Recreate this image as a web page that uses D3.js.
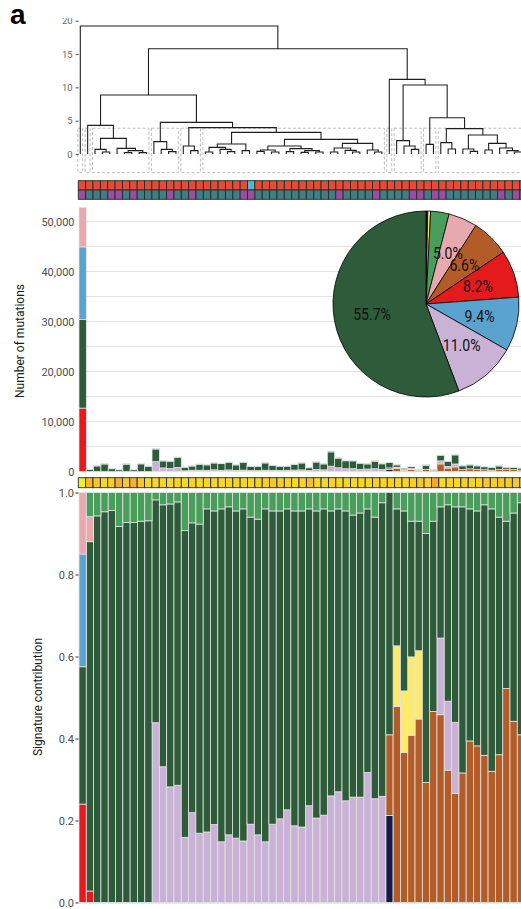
<!DOCTYPE html>
<html><head><meta charset="utf-8">
<script src="https://cdn.jsdelivr.net/npm/d3@7"></script>
<style>html,body{margin:0;padding:0;background:#fff;overflow:hidden;} svg{display:block;font-family:Roboto,"Noto Sans",sans-serif;}</style>
</head><body><svg id="c" width="521" height="909"></svg>
<script>
// ---------------- DATA ----------------
const N = 61;
const samples = d3.range(N).map(i => "T" + String(i + 1).padStart(2, "0"));

// dendrogram: [height, left, right], leaves are sample indices
const dendroTree =
 [19.2, 0,
  [15.8,
   [8.85,
    [4.3, 1, [2.35, [0.7, 2, [0.3, 3, 4]], [0.85, 5, [0.5, [0.2, 6, 7], [0.2, 8, 9]]]]],
    [4.75,
     [1.85, 10, [0.7, 11, [0.35, 12, 13]]],
     [3.95,
      [1.2, 14, [0.5, 15, 16]],
      [3.25,
       [1.5, [1.0, [0.3, 17, 18], [0.7, 19, [0.35, 20, 21]]], [0.5, 22, 23]],
       [2.2,
        [1.2, [0.6, [0.4, 24, 25], [0.3, 26, 27]], [0.8, [0.35, 28, 29], [0.5, [0.25, 30, 31], [0.3, 32, 33]]]],
        [1.6, [0.9, [0.3, 34, 35], [0.55, 36, [0.3, 37, 38]]], [0.6, 39, [0.3, 40, 41]]]]]]]],
   [11.2, 42,
    [10.35,
     [2.0, 43, [1.2, 44, [0.7, 45, 46]]],
     [5.45, [1.45, 47, 48],
      [3.8,
       [1.7, 49, [0.75, 50, 51]],
       [2.85, [0.75, 52, [0.4, 53, 54]],
        [1.6, [0.6, 55, 56], [0.9, 57, [0.5, 58, [0.3, 59, 60]]]]]]]]]]];
const dendroClusters = [[0,0],[1,1],[2,9],[10,13],[14,16],[17,41],[42,42],[43,46],[47,48],[49,60]];
const dendroCut = 3.87;
const dendroTicks = [0, 5, 10, 15, 20];

// annotation strips
const stripRow1 = "AAAAAAAAAAAAAAAAAAAAAAABAAAAAAAAAAAAAAAAAAAAAAAAAAAAAAAAAAAAA".split("");
const stripRow2 = "PTTTPPTPTTTTPTTPTTTTTTPPTTTTTTTTTTTPTTTTPTTTTPPTPPTTTTTTTPTPP".split("");
const stripValue = [
 0, .75, .6, .45, .55, .85, .6, .8, .6, .45,
 .45, .5, .45, .5, .45, .5, .45, .5, .5, .45,
 .5, .5, .45, .5, .5, .55, .6, .55, .5, .45,
 .5, .7, .45, .45, .5, .5, .5, .45, .5, .5,
 .55, .5, .55, .5, .5, .55, .6, .5, .9, .35,
 .5, .45, .55, .5, .5, .6, .55, .6, .55, .6,
 .55];

// total mutations per sample
const totals = [
 52840, 430, 1170, 1570, 570, 370, 1570, 370, 1630, 1100,
 4570, 2170, 2100, 2900, 900, 1170, 1500, 1370, 1770, 1630,
 1900, 1370, 1900, 1100, 1100, 1770, 1230, 1100, 1100, 1500,
 1770, 770, 1970, 1570, 4100, 2770, 2240, 2240, 1700, 1570,
 2170, 1570, 1770, 1370, 700, 1030, 430, 1370, 430, 3300,
 2100, 3430, 1170, 1370, 1170, 970, 830, 1170, 900, 830,
 700];

// signature contributions (fractions)
const sigRed = [
 .24, .028, 0, 0, 0, 0, 0, 0, 0, 0,
 0, 0, 0, 0, 0, 0, 0, 0, 0, 0,
 0, 0, 0, 0, 0, 0, 0, 0, 0, 0,
 0, 0, 0, 0, 0, 0, 0, 0, 0, 0,
 0, 0, 0, 0, 0, 0, 0, 0, 0, 0,
 0, 0, 0, 0, 0, 0, 0, 0, 0, 0,
 0];
const sigNavy = [
 0, 0, 0, 0, 0, 0, 0, 0, 0, 0,
 0, 0, 0, 0, 0, 0, 0, 0, 0, 0,
 0, 0, 0, 0, 0, 0, 0, 0, 0, 0,
 0, 0, 0, 0, 0, 0, 0, 0, 0, 0,
 0, 0, .212, 0, 0, 0, 0, 0, 0, 0,
 0, 0, 0, 0, 0, 0, 0, 0, 0, 0,
 0];
const sigBrown = [
 0, 0, 0, 0, 0, 0, 0, 0, 0, 0,
 0, 0, 0, 0, 0, 0, 0, 0, 0, 0,
 0, 0, 0, 0, 0, 0, 0, 0, 0, 0,
 0, 0, 0, 0, 0, 0, 0, 0, 0, 0,
 0, 0, .197, .478, .366, .408, .4475, .293, .466, .458,
 .323, .266, .316, .394, .382, .359, .320, .3605, .522, .442,
 .409];
const sigYellow = [
 0, 0, 0, 0, 0, 0, 0, 0, 0, 0,
 0, 0, 0, 0, 0, 0, 0, 0, 0, 0,
 0, 0, 0, 0, 0, 0, 0, 0, 0, 0,
 0, 0, 0, 0, 0, 0, 0, 0, 0, 0,
 0, 0, 0, .148, .150, .191, .1665, 0, 0, 0,
 0, 0, 0, 0, 0, 0, 0, 0, 0, 0,
 0];
const sigLilac = [
 0, 0, 0, 0, 0, 0, 0, 0, 0, 0,
 .4385, .331, .282, .286, .159, .219, .169, .172, .190, .148,
 .165, .157, .150, .191, .165, .148, .191, .204, .226, .187,
 .184, .236, .206, .213, .260, .270, .248, .257, .257, .317,
 .253, .259, 0, 0, 0, 0, 0, 0, 0, .187,
 .168, .1735, 0, 0, 0, 0, 0, 0, 0, 0,
 0];
const sigDarkGreen = [
 .335, .852, .943, .953, .956, .917, .927, .927, .930, .931,
 .5435, .639, .690, .691, .748, .707, .754, .788, .765, .812,
 .800, .798, .810, .749, .770, .812, .764, .751, .734, .768,
 .771, .724, .749, .747, .695, .690, .707, .688, .693, .643,
 .687, .716, .5915, .334, .439, .331, .316, .607, .464, .320,
 .479, .5255, .649, .566, .573, .611, .640, .5795, .408, .508,
 .566];
const sigBlue = [
 .275, 0, 0, 0, 0, 0, 0, 0, 0, 0,
 0, 0, 0, 0, 0, 0, 0, 0, 0, 0,
 0, 0, 0, 0, 0, 0, 0, 0, 0, 0,
 0, 0, 0, 0, 0, 0, 0, 0, 0, 0,
 0, 0, 0, 0, 0, 0, 0, 0, 0, 0,
 0, 0, 0, 0, 0, 0, 0, 0, 0, 0,
 0];
const sigPink = [
 .15, .061, 0, 0, 0, 0, 0, 0, 0, 0,
 0, 0, 0, 0, 0, 0, 0, 0, 0, 0,
 0, 0, 0, 0, 0, 0, 0, 0, 0, 0,
 0, 0, 0, 0, 0, 0, 0, 0, 0, 0,
 0, 0, 0, 0, 0, 0, 0, 0, 0, 0,
 0, 0, 0, 0, 0, 0, 0, 0, 0, 0,
 0];
const sigLightGreen = [
 0, .059, .057, .047, .044, .083, .073, .073, .070, .069,
 .018, .030, .028, .023, .093, .074, .077, .04, .045, .04,
 .035, .045, .04, .06, .065, .04, .045, .045, .04, .045,
 .045, .04, .045, .04, .045, .04, .045, .055, .05, .04,
 .06, .025, 0, .04, .045, .07, .07, .10, .07, .035,
 .03, .035, .035, .04, .045, .03, .04, .06, .07, .05,
 .025];

// pie of overall contributions (%)
const pieKeys = ["navy", "yellow", "lightGreen", "pink", "brown", "red", "blue", "lilac", "darkGreen"];
const pieValues = [0.3, 0.5, 3.2, 5.0, 6.6, 8.2, 9.4, 11.0, 55.7];

const midTicks = [0, 10000, 20000, 30000, 40000, 50000];
const midGrid = [5000, 10000, 15000, 20000, 25000, 30000, 35000, 40000, 45000, 50000];
const botTicks = [0, 0.2, 0.4, 0.6, 0.8, 1.0];

// ---------------- STYLE ----------------
const sigKeys = ["red", "navy", "brown", "yellow", "lilac", "darkGreen", "blue", "pink", "lightGreen"];
const sigData = {red: sigRed, navy: sigNavy, brown: sigBrown, yellow: sigYellow, lilac: sigLilac,
  darkGreen: sigDarkGreen, blue: sigBlue, pink: sigPink, lightGreen: sigLightGreen};
const sigColor = {red: "#E41A1C", navy: "#111A48", brown: "#B45C28", yellow: "#FDE96B", lilac: "#CAB2D6",
  darkGreen: "#2E5C3A", blue: "#5AA3CE", pink: "#E7A9AF", lightGreen: "#4A9E5B"};
const row1Color = {A: "#E64B35", B: "#4DBBD5"};
const row2Color = {T: "#3F7E82", P: "#9A4DA5"};
const stripColor = d3.scaleLinear().domain([0, 0.5, 1]).range(["#EEF02C", "#F8D42B", "#F59A3A"]);

const svg = d3.select("#c");

// panel letter
svg.append("text").attr("x", 10).attr("y", 23.5)
  .attr("font-family", "'Liberation Sans', Arial, sans-serif").attr("font-weight", "bold")
  .attr("font-size", 28).attr("fill", "#000").text("a");

// ---------------- SCALES ----------------
const xBar = d3.scaleBand().domain(samples).range([79, 79 + N * 7.305]);
const xDen = d3.scaleBand().domain(samples).range([76.62, 76.62 + N * 7.357]);
const xStrip = d3.scaleBand().domain(samples).range([78.3, 78.3 + N * 7.357]);
const yDen = d3.scaleLinear().domain([0, 20]).range([154, 20.7]);
const yMid = d3.scaleLinear().domain([0, 50000]).range([471.5, 221.5]);
const yBot = d3.scaleLinear().domain([0, 1]).range([902.5, 492.5]);

// ---------------- DENDROGRAM ----------------
const clip = svg.append("defs").append("clipPath").attr("id", "denclip");
clip.append("rect").attr("x", 0).attr("y", 18.3).attr("width", 521).attr("height", 200);
const gDen = svg.append("g").attr("clip-path", "url(#denclip)");
const leafX = i => xDen(samples[i]) + xDen.bandwidth() / 2;

gDen.append("g").selectAll("rect").data(dendroClusters).join("rect")
  .attr("x", d => leafX(d[0]) - 0.34 * xDen.bandwidth())
  .attr("width", d => leafX(d[1]) + 0.33 * xDen.bandwidth() - (leafX(d[0]) - 0.34 * xDen.bandwidth()))
  .attr("y", yDen(dendroCut)).attr("height", yDen(-2.8) - yDen(dendroCut))
  .attr("fill", "none").attr("stroke", "#BDBDBD").attr("stroke-width", 1).attr("stroke-dasharray", "3,2");

const denPaths = [];
function walk(node) {
  if (typeof node === "number") return {x: leafX(node), h: 0};
  const [h, a, b] = node;
  const L = walk(a), R = walk(b);
  denPaths.push(`M${L.x},${yDen(L.h)}V${yDen(h)}H${R.x}V${yDen(R.h)}`);
  return {x: (L.x + R.x) / 2, h};
}
walk(dendroTree);
gDen.append("g").selectAll("path").data(denPaths).join("path")
  .attr("d", d => d).attr("fill", "none").attr("stroke", "#1f1f1f").attr("stroke-width", 1.1);

const axDen = gDen.append("g").attr("transform", "translate(78.7,0)")
  .call(d3.axisLeft(yDen).tickValues(dendroTicks).tickSize(3).tickPadding(3));
axDen.select(".domain").remove();
axDen.selectAll("line").attr("stroke", "#555");
axDen.selectAll("text").attr("font-size", 9.5).attr("fill", "#666").attr("font-family", "Roboto, sans-serif");

// ---------------- ANNOTATION STRIP ----------------
const gStrip = svg.append("g");
gStrip.selectAll("rect.r1").data(samples).join("rect").attr("class", "r1")
  .attr("x", d => xStrip(d)).attr("width", xStrip.bandwidth())
  .attr("y", 180.7).attr("height", 9.3)
  .attr("fill", (d, i) => row1Color[stripRow1[i]]).attr("stroke", "#2a2a2a").attr("stroke-width", 0.9);
gStrip.selectAll("rect.r2").data(samples).join("rect").attr("class", "r2")
  .attr("x", d => xStrip(d)).attr("width", xStrip.bandwidth())
  .attr("y", 190).attr("height", 9.3)
  .attr("fill", (d, i) => row2Color[stripRow2[i]]).attr("stroke", "#2a2a2a").attr("stroke-width", 0.9);

// ---------------- MUTATION COUNTS ----------------
const gMid = svg.append("g");
gMid.append("g").selectAll("line").data(midGrid).join("line")
  .attr("x1", 79).attr("x2", 521).attr("y1", d => yMid(d)).attr("y2", d => yMid(d))
  .attr("stroke", "#E3E3E3").attr("stroke-width", 1);

const countRows = samples.map((s, i) => {
  const o = {sample: s};
  sigKeys.forEach(k => { o[k] = totals[i] * sigData[k][i]; });
  return o;
});
const countStack = d3.stack().keys(sigKeys)(countRows);
gMid.append("g").selectAll("g").data(countStack).join("g")
  .attr("fill", d => sigColor[d.key])
  .selectAll("rect").data(d => d.filter(p => p[1] - p[0] > 0)).join("rect")
  .attr("x", d => xBar(d.data.sample)).attr("width", xBar.bandwidth())
  .attr("y", d => yMid(d[1])).attr("height", d => yMid(d[0]) - yMid(d[1]))
  .attr("stroke", "#E6E6E6").attr("stroke-width", 0.7);

const axMid = gMid.append("g").attr("transform", "translate(79,0)")
  .call(d3.axisLeft(yMid).tickValues(midTicks).tickSize(0).tickPadding(4.5).tickFormat(d3.format(",")));
axMid.select(".domain").remove();
axMid.selectAll("text").attr("font-size", 11).attr("fill", "#4D4D4D").attr("font-family", "Roboto, sans-serif");

svg.append("text").attr("transform", "translate(24,341) rotate(-90)")
  .attr("text-anchor", "middle").attr("font-size", 12).attr("fill", "#1a1a1a").text("Number of mutations");

// ---------------- PIE ----------------
const pieCx = 426, pieCy = 304, pieR = 93;
const gPie = svg.append("g").attr("transform", `translate(${pieCx},${pieCy})`);
const pieArcs = d3.pie().sort(null).value(d => d)(pieValues);
const arc = d3.arc().innerRadius(0).outerRadius(pieR);
const labelArc = d3.arc().innerRadius(pieR * 0.59).outerRadius(pieR * 0.59);
gPie.selectAll("path").data(pieArcs).join("path")
  .attr("d", arc).attr("fill", (d, i) => sigColor[pieKeys[i]])
  .attr("stroke", "#000").attr("stroke-width", 0.8);
gPie.selectAll("text").data(pieArcs.filter(d => d.data >= 5)).join("text")
  .attr("transform", d => { const c = labelArc.centroid(d); return `translate(${c[0]},${c[1]}) scale(0.88,1)`; })
  .attr("text-anchor", "middle").attr("dy", "0.36em")
  .attr("font-size", 16).attr("fill", "#111").text(d => d.data.toFixed(1) + "%");

// ---------------- CONTINUOUS STRIP ----------------
svg.append("g").selectAll("rect").data(samples).join("rect")
  .attr("x", d => xStrip(d)).attr("width", xStrip.bandwidth())
  .attr("y", 477.7).attr("height", 10)
  .attr("fill", (d, i) => stripColor(stripValue[i]))
  .attr("stroke", "#2a2a2a").attr("stroke-width", 0.9);

// ---------------- SIGNATURE CONTRIBUTION ----------------
const gBot = svg.append("g");
const fracRows = samples.map((s, i) => {
  const o = {sample: s};
  sigKeys.forEach(k => { o[k] = sigData[k][i]; });
  return o;
});
const fracStack = d3.stack().keys(sigKeys)(fracRows);
gBot.append("g").selectAll("g").data(fracStack).join("g")
  .attr("fill", d => sigColor[d.key])
  .selectAll("rect").data(d => d.filter(p => p[1] - p[0] > 0)).join("rect")
  .attr("x", d => xBar(d.data.sample)).attr("width", xBar.bandwidth())
  .attr("y", d => yBot(Math.min(1, d[1]))).attr("height", d => yBot(d[0]) - yBot(Math.min(1, d[1])))
  .attr("stroke", "#E3E3E3").attr("stroke-width", 0.8);

gBot.append("line").attr("x1", 79).attr("x2", 521).attr("y1", yBot(0) + 0.5).attr("y2", yBot(0) + 0.5)
  .attr("stroke", "#D8D8D8").attr("stroke-width", 1);

const axBot = gBot.append("g").attr("transform", "translate(78.5,0)")
  .call(d3.axisLeft(yBot).tickValues(botTicks).tickSize(3).tickPadding(1.5).tickFormat(d3.format(".1f")));
axBot.select(".domain").remove();
axBot.selectAll("line").attr("stroke", "#333");
axBot.selectAll("text").attr("font-size", 11).attr("fill", "#4D4D4D").attr("font-family", "Roboto, sans-serif");

svg.append("text").attr("transform", "translate(42,697) rotate(-90)")
  .attr("text-anchor", "middle").attr("font-size", 12).attr("fill", "#1a1a1a").text("Signature contribution");
</script>
</body></html>
